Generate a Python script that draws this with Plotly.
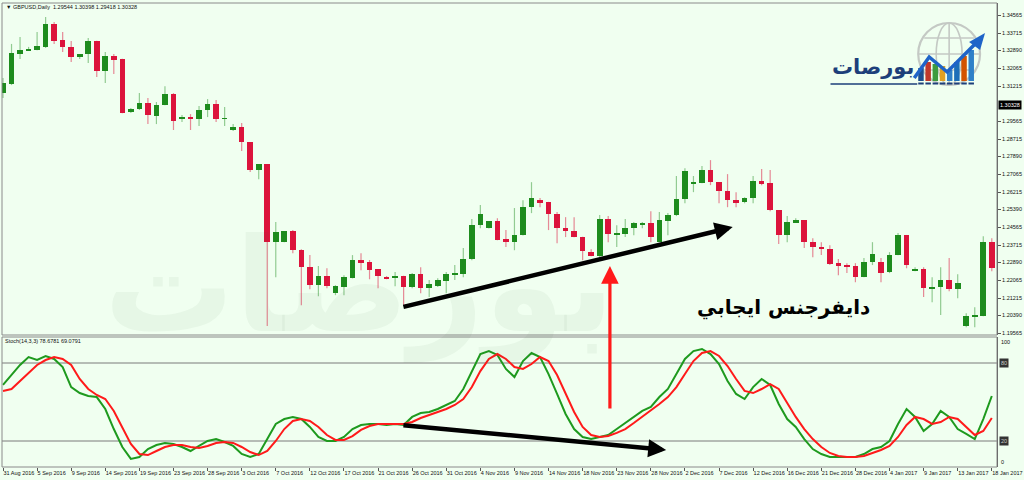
import plotly.graph_objects as go

# ---------------- data ----------------
date_labels = ["31 Aug 2016", "5 Sep 2016", "9 Sep 2016", "14 Sep 2016", "19 Sep 2016", "23 Sep 2016",
               "28 Sep 2016", "3 Oct 2016", "7 Oct 2016", "12 Oct 2016", "17 Oct 2016", "21 Oct 2016",
               "26 Oct 2016", "31 Oct 2016", "4 Nov 2016", "9 Nov 2016", "14 Nov 2016", "18 Nov 2016",
               "23 Nov 2016", "28 Nov 2016", "2 Dec 2016", "7 Dec 2016", "12 Dec 2016", "16 Dec 2016",
               "21 Dec 2016", "28 Dec 2016", "4 Jan 2017", "9 Jan 2017", "13 Jan 2017", "18 Jan 2017"]
label_bars = list(range(0, 117, 4))

opens = [1.3088, 1.3131, 1.3272, 1.3291, 1.3291, 1.3306, 1.3414, 1.3339, 1.3306, 1.3258,
         1.3272, 1.3334, 1.3192, 1.3263, 1.3249, 1.2999, 1.3013, 1.3041, 1.2980, 1.3032,
         1.3084, 1.2966, 1.2975, 1.2966, 1.3008, 1.3036, 1.2966, 1.2914, 1.2928, 1.2857,
         1.2725, 1.2753, 1.2385, 1.2385, 1.2437, 1.2347, 1.2267, 1.2182, 1.2225, 1.2144,
         1.2173, 1.2215, 1.2300, 1.2291, 1.2258, 1.2220, 1.2220, 1.2225, 1.2173, 1.2234,
         1.2168, 1.2177, 1.2201, 1.2234, 1.2234, 1.2305, 1.2465, 1.2451, 1.2484, 1.2399,
         1.2385, 1.2418, 1.2550, 1.2583, 1.2574, 1.2517, 1.2451, 1.2437, 1.2409, 1.2338,
         1.2319, 1.2494, 1.2418, 1.2423, 1.2451, 1.2465, 1.2475, 1.2385, 1.2484, 1.2513,
         1.2588, 1.2664, 1.2664, 1.2725, 1.2668, 1.2626, 1.2583, 1.2574, 1.2593, 1.2673,
         1.2664, 1.2536, 1.2418, 1.2480, 1.2489, 1.2385, 1.2362, 1.2352, 1.2286, 1.2277,
         1.2272, 1.2220, 1.2291, 1.2291, 1.2244, 1.2324, 1.2418, 1.2253, 1.2258, 1.2168,
         1.2173, 1.2206, 1.2163, 1.1989, 1.2036, 1.2036, 1.2385]
highs = [1.3159, 1.3320, 1.3353, 1.3306, 1.3376, 1.3447, 1.3424, 1.3376, 1.3334, 1.3273,
         1.3348, 1.3335, 1.3282, 1.3272, 1.3250, 1.3018, 1.3088, 1.3065, 1.3046, 1.3121,
         1.3088, 1.2985, 1.2989, 1.3027, 1.3060, 1.3055, 1.3022, 1.2942, 1.2947, 1.2858,
         1.2754, 1.2754, 1.2480, 1.2438, 1.2442, 1.2352, 1.2324, 1.2272, 1.2262, 1.2182,
         1.2229, 1.2324, 1.2333, 1.2301, 1.2259, 1.2225, 1.2244, 1.2226, 1.2239, 1.2267,
         1.2206, 1.2215, 1.2244, 1.2277, 1.2357, 1.2494, 1.2560, 1.2485, 1.2498, 1.2442,
         1.2546, 1.2583, 1.2668, 1.2593, 1.2575, 1.2527, 1.2503, 1.2503, 1.2410, 1.2352,
         1.2513, 1.2508, 1.2465, 1.2494, 1.2480, 1.2480, 1.2531, 1.2527, 1.2522, 1.2697,
         1.2734, 1.2697, 1.2744, 1.2772, 1.2669, 1.2706, 1.2621, 1.2597, 1.2697, 1.2730,
         1.2725, 1.2537, 1.2508, 1.2498, 1.2490, 1.2404, 1.2385, 1.2371, 1.2305, 1.2286,
         1.2286, 1.2310, 1.2385, 1.2310, 1.2338, 1.2428, 1.2419, 1.2267, 1.2267, 1.2220,
         1.2267, 1.2310, 1.2234, 1.2050, 1.2078, 1.2413, 1.2404]
lows = [1.3065, 1.3126, 1.3249, 1.3287, 1.3290, 1.3301, 1.3320, 1.3282, 1.3235, 1.3249,
        1.3230, 1.3164, 1.3136, 1.3178, 1.2993, 1.2994, 1.3008, 1.2942, 1.2942, 1.3031,
        1.2914, 1.2952, 1.2914, 1.2933, 1.2975, 1.2952, 1.2933, 1.2909, 1.2815, 1.2716,
        1.2682, 1.1989, 1.2220, 1.2384, 1.2333, 1.2088, 1.2163, 1.2130, 1.2168, 1.2135,
        1.2135, 1.2214, 1.2253, 1.2210, 1.2168, 1.2210, 1.2177, 1.2088, 1.2168, 1.2144,
        1.2126, 1.2173, 1.2144, 1.2206, 1.2220, 1.2300, 1.2451, 1.2450, 1.2394, 1.2362,
        1.2347, 1.2417, 1.2522, 1.2550, 1.2442, 1.2380, 1.2409, 1.2408, 1.2300, 1.2318,
        1.2314, 1.2385, 1.2362, 1.2409, 1.2418, 1.2451, 1.2385, 1.2384, 1.2418, 1.2508,
        1.2569, 1.2621, 1.2663, 1.2654, 1.2569, 1.2550, 1.2550, 1.2569, 1.2569, 1.2654,
        1.2531, 1.2376, 1.2385, 1.2475, 1.2357, 1.2314, 1.2324, 1.2277, 1.2229, 1.2239,
        1.2196, 1.2219, 1.2277, 1.2196, 1.2239, 1.2323, 1.2262, 1.2248, 1.2126, 1.2102,
        1.2041, 1.2154, 1.2121, 1.1984, 1.1984, 1.2035, 1.2248]
closes = [1.3136, 1.3277, 1.3291, 1.3296, 1.3310, 1.3414, 1.3334, 1.3306, 1.3258, 1.3272,
          1.3334, 1.3192, 1.3263, 1.3244, 1.2994, 1.3013, 1.3041, 1.2985, 1.3032, 1.3084,
          1.2956, 1.2975, 1.2966, 1.3008, 1.3036, 1.2966, 1.2970, 1.2928, 1.2857, 1.2725,
          1.2753, 1.2385, 1.2432, 1.2437, 1.2347, 1.2267, 1.2182, 1.2225, 1.2177, 1.2177,
          1.2220, 1.2300, 1.2291, 1.2253, 1.2225, 1.2215, 1.2225, 1.2173, 1.2234, 1.2168,
          1.2187, 1.2206, 1.2234, 1.2239, 1.2305, 1.2465, 1.2517, 1.2484, 1.2395, 1.2385,
          1.2418, 1.2550, 1.2593, 1.2574, 1.2517, 1.2451, 1.2437, 1.2409, 1.2343, 1.2319,
          1.2494, 1.2423, 1.2428, 1.2451, 1.2475, 1.2475, 1.2409, 1.2489, 1.2513, 1.2588,
          1.2720, 1.2668, 1.2725, 1.2668, 1.2626, 1.2583, 1.2574, 1.2593, 1.2673, 1.2664,
          1.2536, 1.2418, 1.2480, 1.2489, 1.2385, 1.2362, 1.2352, 1.2281, 1.2277, 1.2272,
          1.2220, 1.2291, 1.2328, 1.2239, 1.2324, 1.2418, 1.2277, 1.2258, 1.2168, 1.2173,
          1.2206, 1.2163, 1.2192, 1.2036, 1.2041, 1.2385, 1.2262]

stoch_main = [63.1, 70.8, 78.5, 84.6, 82.3, 85.4, 83.1, 76.9, 61.5, 56.9,
              54.6, 53.8, 44.6, 29.2, 15.4, 6.2, 7.7, 13.8, 16.9, 18.5,
              17.7, 15.4, 12.3, 16.2, 20.0, 21.5, 19.2, 16.2, 10.0, 7.7,
              10.0, 21.5, 33.1, 36.9, 38.5, 36.9, 30.8, 23.1, 20.0, 20.0,
              23.1, 29.2, 32.3, 33.1, 33.1, 32.3, 33.1, 32.3, 38.5, 41.5,
              42.3, 44.6, 47.7, 50.8, 60.0, 73.8, 86.9, 89.2, 86.2, 75.4,
              69.2, 81.5, 87.7, 84.6, 71.5, 56.2, 40.8, 29.2, 23.1, 21.5,
              23.1, 24.6, 29.2, 33.8, 38.5, 43.1, 46.2, 53.8, 60.0, 71.5,
              83.1, 89.2, 90.8, 86.9, 79.2, 66.2, 56.2, 52.3, 61.5, 67.7,
              63.1, 48.5, 36.9, 30.8, 21.5, 13.8, 10.0, 7.7, 7.7, 7.7,
              7.7, 10.0, 13.8, 15.4, 20.0, 33.1, 44.6, 38.5, 27.7, 33.1,
              43.1, 38.5, 29.2, 25.4, 21.5, 36.9, 54.6]
stoch_signal = [58.5, 60.0, 66.2, 72.3, 78.5, 82.3, 84.6, 83.1, 78.5, 67.7,
                60.0, 55.4, 52.3, 43.1, 30.8, 17.7, 10.0, 9.2, 12.3, 15.4,
                16.9, 16.9, 15.4, 14.6, 16.2, 18.5, 19.2, 18.5, 15.4, 11.5,
                9.2, 12.3, 20.0, 29.2, 35.4, 36.9, 35.4, 30.8, 24.6, 20.8,
                20.8, 23.8, 28.5, 31.5, 33.1, 33.1, 33.1, 33.1, 34.6, 37.7,
                40.0, 42.3, 44.6, 47.7, 52.3, 61.5, 73.8, 83.1, 86.9, 83.1,
                76.9, 75.4, 79.2, 84.6, 81.5, 70.8, 56.2, 42.3, 30.8, 24.6,
                23.1, 23.8, 26.2, 29.2, 33.8, 38.5, 43.1, 48.5, 53.8, 61.5,
                71.5, 81.5, 87.7, 89.2, 85.4, 77.7, 67.7, 58.5, 56.9, 60.0,
                63.8, 60.0, 49.2, 38.5, 29.2, 21.5, 15.4, 10.8, 8.5, 7.7,
                7.7, 8.5, 10.8, 13.1, 16.2, 23.1, 32.3, 38.5, 36.9, 33.1,
                34.6, 38.5, 36.9, 30.8, 24.6, 27.7, 37.7]
stoch_levels = [20, 80]

price_ticks = [1.34565, 1.33715, 1.32890, 1.32065, 1.31215, 1.29565, 1.28715, 1.27890, 1.27065,
               1.26215, 1.25390, 1.24565, 1.23715, 1.22890, 1.22065, 1.21215, 1.20390, 1.19565]
last_price = 1.30328
header_text = "GBPUSD,Daily  1.29544 1.30398 1.29418 1.30328"
stoch_header = "Stoch(14,3,3) 78.6781 69.0791"

# divergence arrows (bar index, value)
price_div = [(46.8, 1.2078), (85.6, 1.2456)]
stoch_div = [(46.8, 32.3), (77.8, 13.1)]
signal_bar, signal_price = 71.2, 1.2272

# ---------------- style ----------------
W, H = 1024, 480
ML, MR, MT, MB = 2, 24, 3, 13
BG = "#F0FFF0"
BODY_UP, BODY_DN = "#1E8C1E", "#DC143C"
WICK_UP, WICK_DN = "rgba(30,140,30,0.45)", "rgba(220,20,60,0.5)"
FRAME = "#8a8a8a"
AXF = dict(family="Liberation Sans, Arial, sans-serif", size=5.5, color="#111")
PRICE_BOTTOM = (H - MB - 335) / (H - MT - MB)
STOCH_TOP = (H - MB - 337) / (H - MT - MB)


def P(x, y):
    return (x - ML) / (W - ML - MR), (H - MB - y) / (H - MT - MB)


n = len(closes)
bars = list(range(n))
up = [i for i in bars if closes[i] >= opens[i]]
dn = [i for i in bars if closes[i] < opens[i]]

fig = go.Figure()


def wick_xy(idx):
    xs, ys = [], []
    for i in idx:
        xs += [i, i, None]
        ys += [lows[i], highs[i], None]
    return xs, ys


for idx, wc in ((up, WICK_UP), (dn, WICK_DN)):
    xs, ys = wick_xy(idx)
    fig.add_trace(go.Scatter(x=xs, y=ys, mode="lines", line=dict(color=wc, width=1.2),
                             xaxis="x", yaxis="y", hoverinfo="skip", showlegend=False))
for idx, bc in ((up, BODY_UP), (dn, BODY_DN)):
    fig.add_trace(go.Bar(x=idx,
                         base=[min(opens[i], closes[i]) for i in idx],
                         y=[max(abs(closes[i] - opens[i]), 0.0004) for i in idx],
                         width=0.66, marker=dict(color=bc, line=dict(width=0)),
                         xaxis="x", yaxis="y", hoverinfo="skip", showlegend=False))

fig.add_trace(go.Scatter(x=bars, y=stoch_main, mode="lines", line=dict(color="#1E9A1E", width=2),
                         xaxis="x", yaxis="y2", hoverinfo="skip", showlegend=False))
fig.add_trace(go.Scatter(x=bars, y=stoch_signal, mode="lines", line=dict(color="#FF1A1A", width=2),
                         xaxis="x", yaxis="y2", hoverinfo="skip", showlegend=False))

shapes = []
# pane frames
shapes.append(dict(type="rect", xref="paper", yref="paper", x0=0, x1=1, y0=PRICE_BOTTOM, y1=1,
                   line=dict(color=FRAME, width=1), layer="above"))
shapes.append(dict(type="rect", xref="paper", yref="paper", x0=0, x1=1, y0=0, y1=STOCH_TOP,
                   line=dict(color=FRAME, width=1), layer="above"))
for lv in stoch_levels:
    shapes.append(dict(type="line", xref="paper", yref="y2", x0=0, x1=1, y0=lv, y1=lv,
                       line=dict(color="#7a7a7a", width=1), layer="below"))

# logo (decoration)
GLOBE = "#c4c9c4"
cx0, cy0 = P(921, 23)
cx1, cy1 = P(983, 85)
shapes.append(dict(type="circle", xref="paper", yref="paper", x0=cx0, y0=cy0, x1=cx1, y1=cy1,
                   line=dict(color=GLOBE, width=2.2)))
ex0, ey0 = P(939, 23)
ex1, ey1 = P(965, 85)
shapes.append(dict(type="circle", xref="paper", yref="paper", x0=ex0, y0=ey0, x1=ex1, y1=ey1,
                   line=dict(color=GLOBE, width=1.6)))
for yy, xa, xb in ((38, 927, 977), (54, 921, 983), (70, 927, 977)):
    a = P(xa, yy); b = P(xb, yy)
    shapes.append(dict(type="line", xref="paper", yref="paper", x0=a[0], y0=a[1], x1=b[0], y1=b[1],
                       line=dict(color=GLOBE, width=1.6)))
a = P(952, 23); b = P(952, 85)
shapes.append(dict(type="line", xref="paper", yref="paper", x0=a[0], y0=a[1], x1=b[0], y1=b[1],
                   line=dict(color=GLOBE, width=1.6)))
logo_cols = ["#1c4f8f", "#c0392b", "#3e9b3e", "#e0a020", "#2f80c8", "#1c6fb8", "#d35400", "#2f80c8"]
logo_tops = [68, 62, 64, 66, 70, 62, 56, 50]
for k, (c, t) in enumerate(zip(logo_cols, logo_tops)):
    a = P(921 + 7.2 * k, t); b = P(926.5 + 7.2 * k, 81)
    shapes.append(dict(type="rect", xref="paper", yref="paper", x0=a[0], y0=b[1], x1=b[0], y1=a[1],
                       line=dict(width=0), fillcolor=c))
    a = P(921 + 7.2 * k, 83.5); b = P(926.5 + 7.2 * k, 83.5)
    shapes.append(dict(type="line", xref="paper", yref="paper", x0=a[0], y0=a[1], x1=b[0], y1=b[1],
                       line=dict(color="#1d3f7a", width=2)))
a = P(833, 84); b = P(920, 84)
shapes.append(dict(type="line", xref="paper", yref="paper", x0=a[0], y0=a[1], x1=b[0], y1=b[1],
                   line=dict(color="#1d3f7a", width=1.5)))
pts = [P(917, 78), P(932, 57), P(950, 72), P(979, 43)]
path = "M " + " L ".join(f"{x:.5f},{y:.5f}" for x, y in pts)
shapes.append(dict(type="path", xref="paper", yref="paper", path=path,
                   line=dict(color="#1f64c8", width=3.5)))
tri = [P(972, 42), P(988, 33), P(983, 50)]
shapes.append(dict(type="path", xref="paper", yref="paper",
                   path="M " + " L ".join(f"{x:.5f},{y:.5f}" for x, y in tri) + " Z",
                   line=dict(width=0), fillcolor="#1f64c8"))

annotations = []
# watermark
wx, wy = P(360, 365)
annotations.append(dict(xref="paper", yref="paper", x=wx, y=wy, xanchor="center", yanchor="bottom",
                        text="<b>بورصات</b>", showarrow=False,
                        font=dict(family="DejaVu Sans", size=130, color="rgba(60,100,60,0.05)")))
# logo text
lx, ly = P(876, 67)
annotations.append(dict(xref="paper", yref="paper", x=lx, y=ly, xanchor="center", yanchor="middle",
                        text="<b>بورصات</b>", showarrow=False,
                        font=dict(family="DejaVu Sans", size=21, color="#1d3f7a")))
# headers
hx, hy = P(4, 7)
annotations.append(dict(xref="paper", yref="paper", x=hx, y=hy, xanchor="left", yanchor="middle",
                        text="▼ " + header_text, showarrow=False, font=AXF))
sx, sy = P(3, 341)
annotations.append(dict(xref="paper", yref="paper", x=sx, y=sy, xanchor="left", yanchor="middle",
                        text=stoch_header, showarrow=False, font=AXF))
# last price label
annotations.append(dict(xref="paper", yref="y", x=1, y=last_price, xanchor="left", yanchor="middle",
                        xshift=1, text=f"{last_price:.5f}", showarrow=False, bgcolor="#000",
                        font=dict(family=AXF["family"], size=5.5, color="#fff"), borderpad=1))
# stoch axis labels
annotations.append(dict(xref="paper", yref="y2", x=1, y=100, xanchor="left", yanchor="top", xshift=2,
                        text="100", showarrow=False, font=AXF))
annotations.append(dict(xref="paper", yref="y2", x=1, y=0, xanchor="left", yanchor="bottom", xshift=2,
                        text="0", showarrow=False, font=AXF))
for lv in stoch_levels:
    annotations.append(dict(xref="paper", yref="y2", x=1, y=lv, xanchor="left", yanchor="middle",
                            xshift=2, text=str(lv), showarrow=False, bgcolor="#333",
                            font=dict(family=AXF["family"], size=5.5, color="#ccc"), borderpad=1))
# divergence arrows
annotations.append(dict(xref="x", yref="y", axref="x", ayref="y",
                        x=price_div[1][0], y=price_div[1][1], ax=price_div[0][0], ay=price_div[0][1],
                        text="", showarrow=True, arrowhead=2, arrowsize=0.8, arrowwidth=4.5,
                        arrowcolor="#000"))
annotations.append(dict(xref="x", yref="y2", axref="x", ayref="y2",
                        x=stoch_div[1][0], y=stoch_div[1][1], ax=stoch_div[0][0], ay=stoch_div[0][1],
                        text="", showarrow=True, arrowhead=2, arrowsize=0.8, arrowwidth=4.5,
                        arrowcolor="#000"))
annotations.append(dict(xref="x", yref="y", x=signal_bar, y=signal_price, ax=0, ay=144,
                        text="", showarrow=True, arrowhead=2, arrowsize=1.1, arrowwidth=3.2,
                        arrowcolor="#FF1A1A"))
tx, ty = P(786, 307)
annotations.append(dict(xref="paper", yref="paper", x=tx, y=ty, xanchor="center", yanchor="middle",
                        text="<b>دايفرجنس ايجابي</b>", showarrow=False,
                        font=dict(family="DejaVu Sans", size=20, color="#000")))

fig.update_layout(
    width=W, height=H, margin=dict(l=ML, r=MR, t=MT, b=MB, pad=0),
    paper_bgcolor=BG, plot_bgcolor=BG, barmode="overlay", bargap=0, showlegend=False,
    hovermode=False,
    xaxis=dict(domain=[0, 1], anchor="y2", range=[-0.117, 116.61], tickmode="array",
               tickvals=label_bars, ticktext=date_labels, ticks="outside", ticklen=3,
               tickcolor="#555", tickwidth=1, tickfont=AXF, ticklabelposition="outside right",
               tickangle=0, showgrid=False, zeroline=False, showline=False, fixedrange=True),
    yaxis=dict(domain=[PRICE_BOTTOM, 1], anchor="x", side="right", range=[1.19471, 1.35131],
               tickmode="array", tickvals=price_ticks, ticktext=[f"{v:.5f}" for v in price_ticks],
               ticks="outside", ticklen=3, tickcolor="#555", tickfont=AXF, showgrid=False,
               zeroline=False, showline=True, linecolor="#505050", linewidth=1, fixedrange=True),
    yaxis2=dict(domain=[0, STOCH_TOP], anchor="x", side="right", range=[0, 100],
                showticklabels=False, ticks="", showgrid=False, zeroline=False,
                showline=True, linecolor="#505050", linewidth=1, fixedrange=True),
    shapes=shapes, annotations=annotations,
)

fig.write_html("out.html", config={"displayModeBar": False})
